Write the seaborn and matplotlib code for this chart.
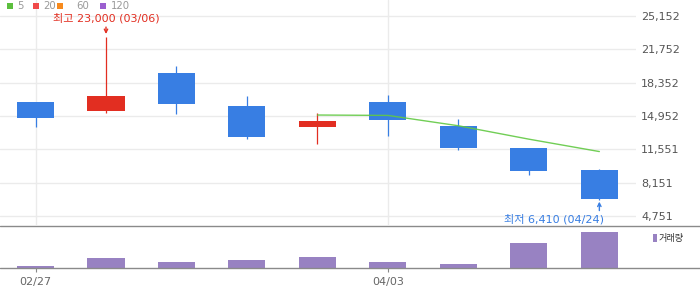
import numpy as np
import pandas as pd
import matplotlib
matplotlib.use('Agg')
import matplotlib.pyplot as plt
import seaborn as sns
from matplotlib.patches import Rectangle
from matplotlib.lines import Line2D

# ---- data ----
dates = ['02/27', '03/06', '03/13', '03/20', '03/27', '04/03', '04/10', '04/17', '04/24']
opens = [16371, 15483, 19332, 15963, 13850, 16371, 13921, 11675, 9429]
highs = [16371, 23000, 20047, 16984, 15248, 17086, 14636, 11675, 9531]
lows = [13850, 15279, 15177, 12624, 12114, 12930, 11501, 8949, 6410]
closes = [14768, 16984, 16198, 12828, 14432, 14564, 11705, 9357, 6498]
volumes = [53000, 267000, 160000, 213000, 293000, 160000, 107000, 667000, 960000]
y_ticks = [4751, 8151, 11551, 14952, 18352, 21752, 25152]
x_tick_dates = ['02/27', '04/03']
legend_labels = ['5', '20', '60', '120']
legend_colors = ['#5cbf3e', '#f04a4a', '#f78a1d', '#9b5fcf']
high_label = '최고 23,000 (03/06)'
low_label = '최저 6,410 (04/24)'
vol_label = '거래량'

UP = '#e22e21'
DOWN = '#387ee3'
PURPLE = '#9882c2'
GRID = '#ebebeb'

sns.set_theme(style='white')
plt.rcParams['font.family'] = ['DejaVu Sans', 'Noto Sans CJK KR']

W, H = 700, 289
fig = plt.figure(figsize=(W / 100, H / 100), dpi=100)

df = pd.DataFrame({'date': dates, 'open': opens, 'high': highs, 'low': lows,
                   'close': closes, 'volume': volumes})
df['idx'] = np.arange(len(df))
df['ma5'] = df['close'].rolling(5).mean()
cols = [UP if c >= o else DOWN for o, c in zip(df['open'], df['close'])]

main_bottom_px = 225.3
ax = fig.add_axes([0, 1 - main_bottom_px / H, 636 / W, main_bottom_px / H])
XL = (-0.504, 8.52)

# wicks and bodies
ax.vlines(df['idx'], df['low'], df['high'], colors=cols, lw=0.9, zorder=3)
body_lo = np.minimum(df['open'], df['close'])
body_h = np.abs(df['close'] - df['open'])
ax.bar(df['idx'], body_h, bottom=body_lo, width=0.525, color=cols, linewidth=0, zorder=4)

# MA5
sns.lineplot(data=df.dropna(subset=['ma5']), x='idx', y='ma5', color='#62c943',
             lw=1.0, ax=ax, zorder=5, alpha=0.9)

ax.set_xlim(*XL)
ax.set_ylim(3782, 26786)
ax.set_yticks(y_ticks)
ax.set_yticklabels([f'{v:,}' for v in y_ticks])
ax.yaxis.tick_right()
ax.tick_params(axis='y', length=0, pad=3.6, labelsize=8, colors='#555555')
ax.set_xticks([dates.index(d) for d in x_tick_dates])
ax.tick_params(axis='x', length=0, labelbottom=False)
ax.grid(True, color=GRID, lw=1.0)
ax.set_axisbelow(True)
ax.set_xlabel('')
ax.set_ylabel('')
for s in ax.spines.values():
    s.set_visible(False)

# high / low annotations
hi_i = int(np.argmax(df['high']))
lo_i = int(np.argmin(df['low']))
ax.annotate(high_label, xy=(hi_i, df['high'][hi_i]), xytext=(0, 19),
            textcoords='offset pixels', ha='center', va='center',
            color=UP, fontsize=8, zorder=6)
ax.annotate('', xy=(hi_i, df['high'][hi_i]), xytext=(0, 10),
            textcoords='offset pixels',
            arrowprops=dict(arrowstyle='->', color=UP, lw=1.0, shrinkA=0,
                            shrinkB=2.2, mutation_scale=6), zorder=6)
ax.annotate(low_label, xy=(lo_i, df['low'][lo_i]), xytext=(5, -19.5),
            textcoords='offset pixels', ha='right', va='center',
            color=DOWN, fontsize=8, zorder=6)
ax.annotate('', xy=(lo_i, df['low'][lo_i]), xytext=(0, -11),
            textcoords='offset pixels',
            arrowprops=dict(arrowstyle='->', color=DOWN, lw=1.0, shrinkA=0,
                            shrinkB=1.5, mutation_scale=6), zorder=6)

# volume panel
vax = fig.add_axes([0, 1 - 268 / H, 636 / W, 42 / H])
sns.barplot(data=df, x='idx', y='volume', color=PURPLE, saturation=1,
            width=0.525, ax=vax, linewidth=0)
vax.set_xlim(*XL)
vax.set_ylim(0, 1120000)
vax.set_yticks([])
vax.set_xticks([dates.index(d) for d in x_tick_dates])
vax.set_xticklabels(x_tick_dates)
vax.tick_params(axis='x', length=3.2, width=0.8, color='#888888', labelcolor='#666666',
                labelsize=8, pad=3.0, bottom=True)
vax.set_xlabel('')
vax.set_ylabel('')
for s in vax.spines.values():
    s.set_visible(False)

# panel separators
for ypx in (225.5, 268.3):
    fig.add_artist(Line2D([0, 1], [1 - ypx / H] * 2, transform=fig.transFigure,
                          color='#8a8a8a', lw=1.0))

# legend at top
def px_rect(x, y, w, h, color):
    fig.add_artist(Rectangle((x / W, 1 - (y + h) / H), w / W, h / H,
                             transform=fig.transFigure, color=color, lw=0))

sq_x = [7, 33, 57, 100]
tx_x = [17.5, 43, 76, 110.5]
for x0, xt, lab, c in zip(sq_x, tx_x, legend_labels, legend_colors):
    px_rect(x0, 2.7, 6, 6, c)
    fig.text(xt / W, 1 - 6.0 / H, lab, ha='left', va='center',
             fontsize=7.3, color='#999999')

# volume label
px_rect(653, 234, 3.5, 8, PURPLE)
fig.text(658.5 / W, 1 - 238 / H, vol_label, ha='left', va='center',
         fontsize=6.6, color='#333333')

fig.savefig('out.png', dpi=100)
